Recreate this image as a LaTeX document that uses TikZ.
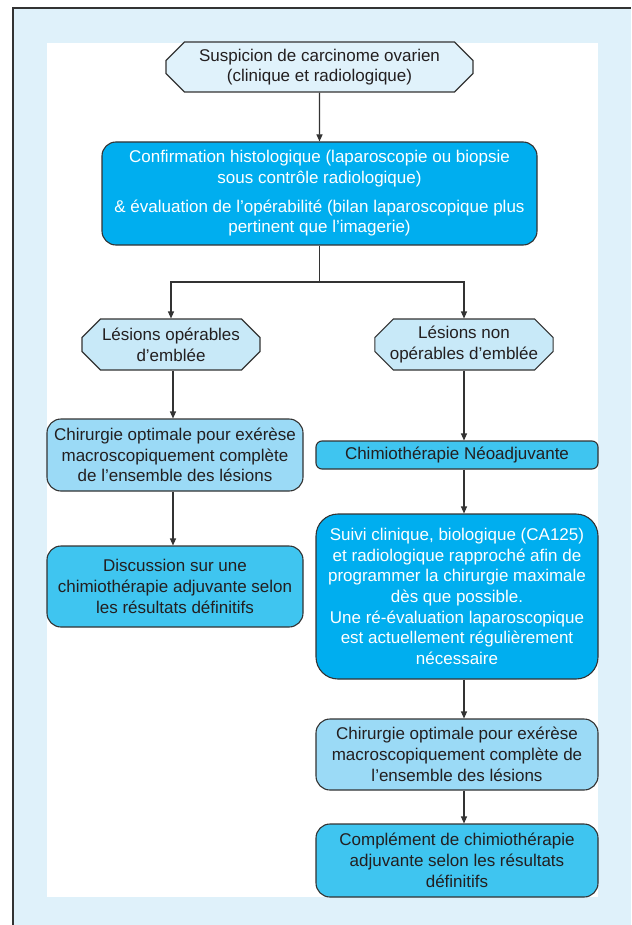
\documentclass[tikz,border=0pt]{standalone}
\usepackage{xcolor}
\usepackage{fontspec}
\setmainfont{Liberation Sans}
\usepackage{tikz}
\usetikzlibrary{calc,positioning,arrows.meta,shapes.misc,backgrounds}

\definecolor{framebg}{HTML}{DFF1FA}
\definecolor{octfill}{HTML}{C8E9F8}
\definecolor{topfill}{HTML}{E0F2FB}
\definecolor{deepcyan}{HTML}{00AEEF}
\definecolor{midcyan}{HTML}{3FC5F0}
\definecolor{palecyan}{HTML}{9BDAF6}
\definecolor{edge}{HTML}{333333}
\definecolor{ink}{HTML}{231F20}

\begin{document}
\begin{tikzpicture}[x=1pt, y=-1pt, align=center,
    font=\fontsize{17}{20.7}\selectfont, text=ink,
    box/.style={draw=edge, line width=1.1pt, rounded corners=14pt, inner sep=0pt},
    octo/.style={chamfered rectangle, chamfered rectangle xsep=15pt,
        draw=edge, line width=1.1pt, fill=octfill, inner sep=0pt},
    arr/.style={draw=edge, line width=1.1pt, -{Triangle[length=7pt, width=6pt]}}]

    \useasboundingbox (0,0) rectangle (631,925);
    \fill[framebg] (13,8) rectangle (631,925);
    \draw[edge, line width=1.5pt] (13,925) -- (13,8) -- (631,8);
    \fill[white] (47,43) rectangle (598,897);

    \node [octo, fill=topfill, minimum width=307pt, minimum height=50pt] (susp) at (319.5,67)
        {Suspicion de carcinome ovarien\\(clinique et radiologique)};
    \node [box, fill=deepcyan, text=white, minimum width=435pt, minimum height=103pt] (conf) at (319.5,193.5)
        {Confirmation histologique (laparoscopie ou biopsie\\sous contrôle radiologique)\\[8pt]
         \& évaluation de l’opérabilité (bilan laparoscopique plus\\pertinent que l’imagerie)};

    \node [octo, minimum width=178pt, minimum height=51pt] (lop) at (171,344.5)
        {Lésions opérables\\d’emblée};
    \node [octo, minimum width=178pt, minimum height=51pt] (lnop) at (464,344.5)
        {Lésions non\\opérables d’emblée};

    % left branch
    \node [box, fill=palecyan, minimum width=256pt, minimum height=72pt] (chirL) at (175,455)
        {Chirurgie optimale pour exérèse\\macroscopiquement complète\\de l’ensemble des lésions};
    \node [box, fill=midcyan, minimum width=256pt, minimum height=81pt] (discL) at (175,586.5)
        {Discussion sur une\\chimiothérapie adjuvante selon\\les résultats définitifs};

    % right branch
    \node [box, fill=midcyan, rounded corners=6pt, minimum width=282pt, minimum height=28pt] (neo) at (457,455)
        {Chimiothérapie Néoadjuvante};
    \node [box, fill=deepcyan, text=white, rounded corners=22pt, minimum width=282pt, minimum height=165pt] (suivi) at (457,596.5)
        {Suivi clinique, biologique (CA125)\\et radiologique rapproché afin de\\programmer la chirurgie maximale\\dès que possible.\\
         Une ré-évaluation laparoscopique\\est actuellement régulièrement\\nécessaire};
    \node [box, fill=palecyan, minimum width=282pt, minimum height=71pt] (chirR) at (457,754.5)
        {Chirurgie optimale pour exérèse\\macroscopiquement complète de\\l’ensemble des lésions};
    \node [box, fill=midcyan, minimum width=282pt, minimum height=73pt] (compl) at (457,860.5)
        {Complément de chimiothérapie\\adjuvante selon les résultats\\définitifs};

    \coordinate (br) at (319.5,282);
    \coordinate (lx) at (173,0);
    \draw[arr] (susp) -- (conf);
    \draw[arr] (conf.south) -- (br) -| (lop.north);
    \draw[arr] (br) -| (lnop.north);

    \draw[arr] (lx |- lop.south) -- (lx |- chirL.north);
    \draw[arr] (lx |- chirL.south) -- (lx |- discL.north);

    \draw[arr] (lnop.south) -- (lnop.south |- neo.north);
    \draw[arr] (lnop.south |- neo.south) -- (lnop.south |- suivi.north);
    \draw[arr] (lnop.south |- suivi.south) -- (lnop.south |- chirR.north);
    \draw[arr] (lnop.south |- chirR.south) -- (lnop.south |- compl.north);

\end{tikzpicture}
\end{document}
